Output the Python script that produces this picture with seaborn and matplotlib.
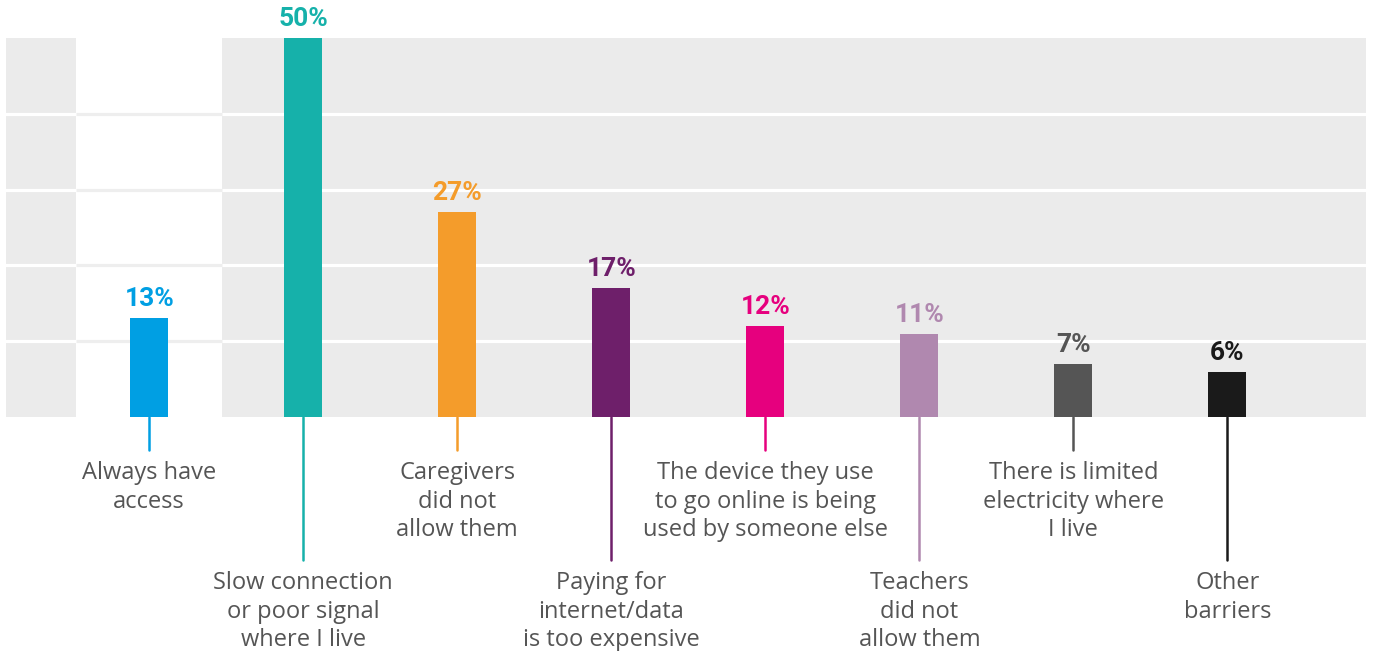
import numpy as np
import pandas as pd
import matplotlib
matplotlib.use('Agg')
import matplotlib.pyplot as plt
import seaborn as sns

# dados
categorias = [
    "Always have\naccess",
    "Slow connection\nor poor signal\nwhere I live",
    "Caregivers\ndid not\nallow them",
    "Paying for\ninternet/data\nis too expensive",
    "The device they use\nto go online is being\nused by someone else",
    "Teachers\ndid not\nallow them",
    "There is limited\nelectricity where\nI live",
    "Other\nbarriers",
]
valores = [13, 50, 27, 17, 12, 11, 7, 6]
cores = ["#009FE3", "#16B1AA", "#F49C2B", "#6E1F6A", "#E6007E", "#B088AF", "#555555", "#1A1A1A"]
grade = [10, 20, 30, 40]

sns.set_theme(style="white")
plt.rcParams['font.family'] = ['Open Sans', 'DejaVu Sans']

df = pd.DataFrame({'cat': categorias, 'val': valores})

fig = plt.figure(figsize=(13.73, 6.51), dpi=100)
ax = fig.add_axes([6/1373, (651-417)/651, 1360/1373, (417-38)/651])
ax.set_facecolor('#ebebeb')

# grade branca e faixa branca atras da primeira barra
for g in grade:
    ax.axhline(g, color='white', lw=2.3, zorder=0.5)
ax.axvspan(-0.475, 0.475, color='white', lw=0, zorder=0.6)
for g in grade:
    ax.hlines(g, -0.475, 0.475, color='#eeeeee', lw=2.3, zorder=0.7)

sns.barplot(data=df, x='cat', y='val', hue='cat', palette=cores, legend=False,
            width=0.247, saturation=1, linewidth=0, ax=ax, zorder=2)

ax.set_xlim(-0.93, 7.9)
ax.set_ylim(0, 50)
ax.set_xticks([])
ax.set_yticks([])
ax.set_xlabel('')
ax.set_ylabel('')
for s in ax.spines.values():
    s.set_visible(False)

px = 50 / 379  # unidades por pixel
for i, (v, c, lab) in enumerate(zip(valores, cores, categorias)):
    ax.text(i, v + 7 * px, f"{v}%", ha='center', va='bottom', color=c,
            fontsize=19, fontweight='bold',
            family=['Roboto', 'DejaVu Sans'], clip_on=False)
    fim = -33 if i % 2 == 0 else -143
    ax.plot([i, i], [0, fim * px], color=c, lw=1.8, clip_on=False, zorder=1)
    ax.text(i, (fim - 11) * px, lab, ha='center', va='top', color='#555555',
            fontsize=17, fontweight='medium', linespacing=1.25, clip_on=False)

fig.savefig('out.png', dpi=100)
